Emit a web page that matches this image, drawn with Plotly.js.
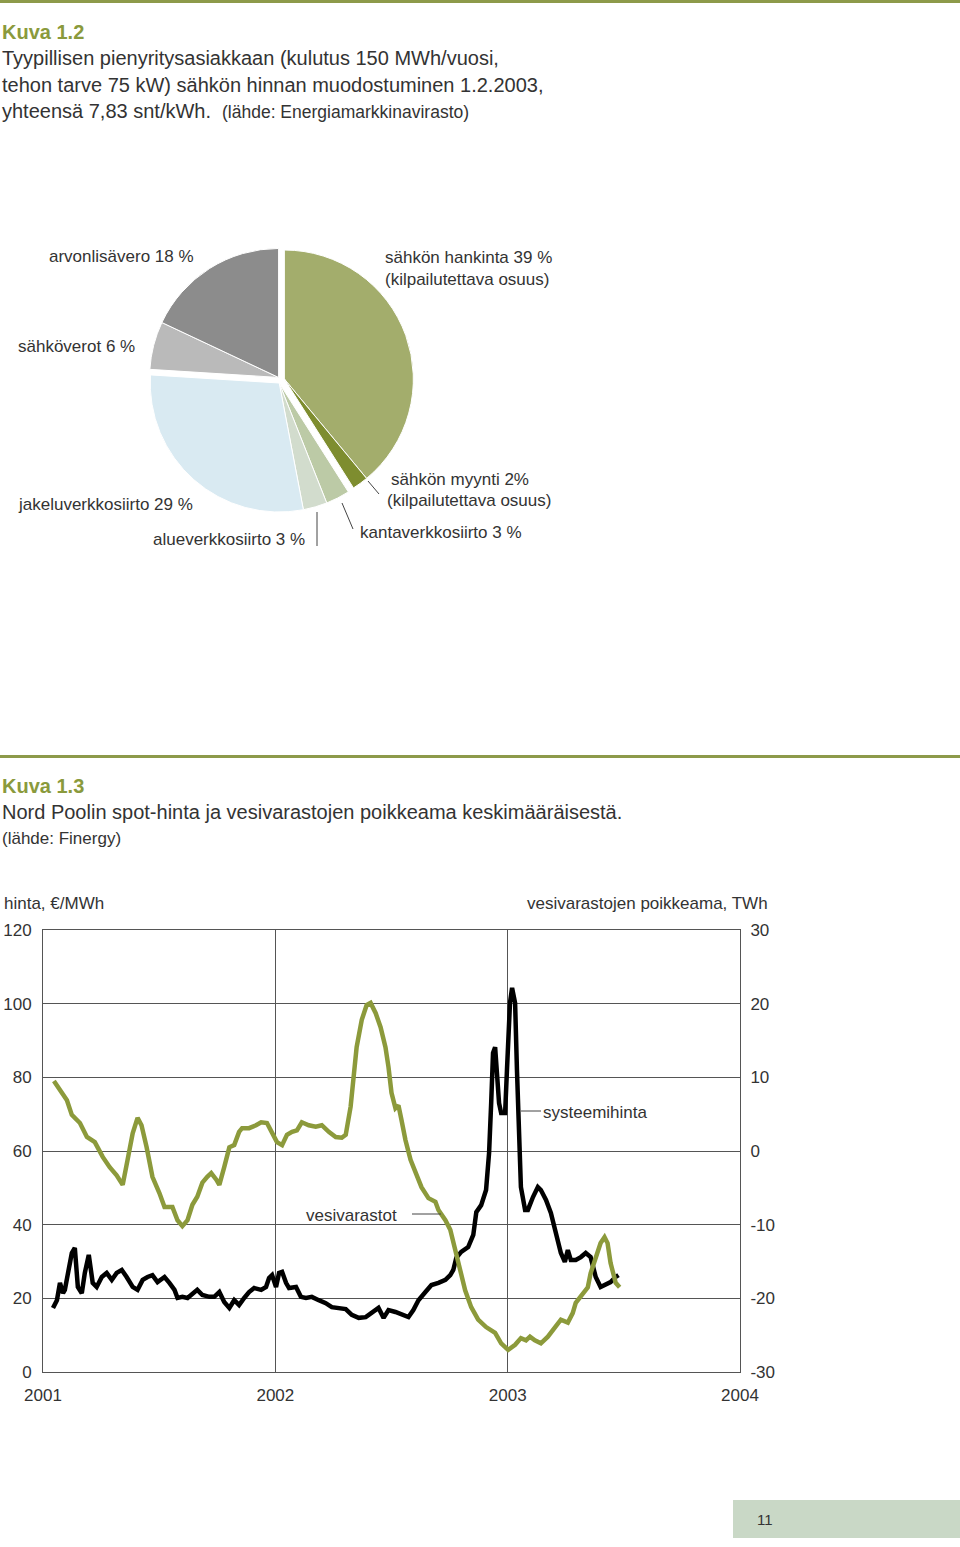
<!DOCTYPE html>
<html><head><meta charset="utf-8">
<script src="https://cdn.plot.ly/plotly-3.0.1.min.js"></script>
<style>html,body{margin:0;padding:0;background:#fff;} #page{width:960px;height:1547px;}</style>
</head><body><div id="page"></div>
<script>
// ---- Kuva 1.2 (pie) ----
const pieLabels = ["sähkön hankinta","sähkön myynti","kantaverkkosiirto","alueverkkosiirto","jakeluverkkosiirto","sähköverot","arvonlisävero"];
const pieValues = [39, 2, 3, 3, 29, 6, 18];
const pieColors = ["#a3ad6c","#7e8d2f","#bccaa6","#d2dccd","#d9eaf2","#bababa","#8c8c8c"];
const pieGroups = [0, 0, 1, 1, 1, 2, 2];

// ---- Kuva 1.3 (lines) ----
const priceYears = [2001.043,2001.060,2001.073,2001.086,2001.094,2001.107,2001.124,2001.137,2001.150,2001.167,
 2001.180,2001.197,2001.214,2001.231,2001.253,2001.274,2001.296,2001.317,2001.339,2001.360,
 2001.386,2001.407,2001.429,2001.450,2001.471,2001.493,2001.523,2001.544,2001.566,2001.579,
 2001.600,2001.622,2001.643,2001.664,2001.686,2001.716,2001.737,2001.759,2001.780,2001.802,
 2001.823,2001.844,2001.866,2001.887,2001.909,2001.939,2001.960,2001.973,2001.986,2002.003,
 2002.016,2002.029,2002.046,2002.059,2002.089,2002.110,2002.132,2002.157,2002.187,2002.217,
 2002.243,2002.273,2002.303,2002.329,2002.359,2002.389,2002.414,2002.444,2002.466,2002.487,
 2002.517,2002.543,2002.573,2002.594,2002.616,2002.646,2002.672,2002.702,2002.732,2002.753,
 2002.766,2002.779,2002.800,2002.830,2002.852,2002.865,2002.886,2002.907,2002.920,2002.929,
 2002.937,2002.946,2002.955,2002.963,2002.972,2002.989,2002.997,2003.010,2003.019,2003.032,
 2003.040,2003.049,2003.057,2003.075,2003.087,2003.109,2003.130,2003.143,2003.165,2003.186,
 2003.207,2003.229,2003.246,2003.259,2003.272,2003.293,2003.315,2003.336,2003.357,2003.379,
 2003.400,2003.422,2003.443,2003.465,2003.477];
const priceValues = [17.4,19.5,24.2,21.4,22.3,26.9,32.3,33.7,23.1,21.4,
 26.9,31.8,24.2,23.1,25.8,26.9,25.0,26.9,27.7,25.8,
 23.1,22.3,25.0,25.8,26.3,24.4,25.8,24.2,22.3,20.1,
 20.4,20.1,21.4,22.3,20.9,20.4,20.4,21.7,19.0,17.4,
 19.5,18.2,20.1,21.7,22.8,22.3,23.1,25.5,26.3,23.1,
 26.9,27.2,24.2,22.8,23.1,20.4,20.1,20.4,19.5,18.7,
 17.6,17.4,17.1,15.5,14.7,14.9,16.0,17.4,14.7,16.8,
 16.3,15.5,14.9,16.8,19.5,21.7,23.6,24.2,25.0,26.3,
 27.7,31.0,32.6,33.9,37.2,43.4,45.3,49.4,59.5,73.0,
 86.6,88.2,80.1,73.0,70.3,70.3,82.0,100.2,104.3,100.2,
 82.0,63.8,50.2,44.0,44.0,47.5,50.2,49.4,46.7,43.2,
 37.7,32.3,29.9,33.1,30.4,30.4,31.2,32.3,31.2,25.8,
 23.1,23.6,24.4,25.8,26.3];

const reservoirYears = [2001.047,2001.073,2001.086,2001.103,2001.124,2001.159,2001.189,2001.223,2001.257,2001.287,
 2001.317,2001.343,2001.364,2001.386,2001.407,2001.424,2001.446,2001.471,2001.501,2001.523,
 2001.544,2001.557,2001.579,2001.600,2001.622,2001.643,2001.664,2001.686,2001.707,2001.724,
 2001.746,2001.759,2001.780,2001.802,2001.823,2001.844,2001.857,2001.887,2001.917,2001.939,
 2001.964,2001.986,
 2002.007,2002.029,2002.050,2002.072,2002.093,2002.114,2002.144,2002.174,2002.200,2002.230,
 2002.260,2002.286,2002.303,2002.324,2002.337,2002.350,2002.372,2002.393,2002.410,2002.432,
 2002.453,2002.474,2002.487,2002.500,2002.517,2002.530,2002.543,2002.560,2002.582,2002.603,
 2002.629,2002.659,2002.689,2002.702,2002.732,2002.753,2002.775,2002.796,2002.817,2002.843,
 2002.873,2002.907,2002.946,2002.972,
 2003.002,2003.032,2003.057,2003.079,2003.096,2003.117,2003.143,2003.173,2003.203,2003.229,
 2003.259,2003.280,2003.293,2003.323,2003.345,2003.357,2003.379,2003.400,2003.417,2003.430,
 2003.443,2003.465,2003.482];
const reservoirValues = [9.5,8.3,7.6,6.9,4.9,3.8,1.9,1.2,-0.8,-2.2,
 -3.3,-4.6,-1.2,2.4,4.5,3.5,0.5,-3.5,-5.7,-7.6,
 -7.6,-7.6,-9.4,-10.2,-9.4,-7.3,-6.2,-4.3,-3.5,-3.0,
 -3.9,-4.6,-2.2,0.5,0.8,2.6,3.1,3.1,3.5,3.9,
 3.8,2.4,
 1.2,0.8,2.2,2.6,2.8,3.9,3.5,3.3,3.5,2.6,
 1.9,1.8,2.2,6.0,10.0,14.1,17.8,19.8,20.1,18.7,
 16.8,14.1,11.4,7.9,5.8,6.2,4.2,1.5,-1.2,-3.0,
 -4.9,-6.4,-6.9,-8.0,-9.4,-10.7,-13.4,-16.2,-18.9,-21.2,
 -22.9,-23.9,-24.7,-26.1,
 -27.0,-26.3,-25.4,-25.7,-25.2,-25.7,-26.1,-25.2,-23.9,-22.9,
 -23.3,-22.0,-20.6,-19.3,-18.5,-16.6,-14.4,-12.5,-11.7,-12.5,
 -15.2,-17.9,-18.5];

const xTickVals = [2001, 2002, 2003, 2004];
const xTickText = ["2001", "2002", "2003", "2004"];
const leftTicks = [0, 20, 40, 60, 80, 100, 120];
const leftTickText = ["0", "20", "40", "60", "80", "100", "120"];
const rightTicks = [-30, -20, -10, 0, 10, 20, 30];
const rightTickText = ["-30", "-20", "-10", "0", "10", "20", "30"];

// ---- page geometry helpers ----
const W = 960, H = 1547;
const X = px => px / W;
const Y = py => 1 - py / H;
const FONT = "Liberation Sans, Arial, Helvetica, sans-serif";
const TXT = "#333333";
const OLIVE = "#8a9a3c";

// pie: three overlaid traces, one per group, each nudged outward slightly
const cx = 281, cy = 380, r = 129, pullPx = 3.5;
const total = pieValues.reduce((a, b) => a + b, 0);
const traces = [];
[0, 1, 2].forEach(g => {
  let start = 0, end = 0, acc = 0;
  let first = true;
  pieValues.forEach((v, i) => {
    if (pieGroups[i] === g) { if (first) { start = acc; first = false; } end = acc + v; }
    acc += v;
  });
  const mid = ((start + end) / 2) / total * 2 * Math.PI;
  const dx = pullPx * Math.sin(mid), dy = -pullPx * Math.cos(mid);
  traces.push({
    type: "pie", labels: pieLabels, values: pieValues, sort: false, direction: "clockwise", rotation: 0,
    marker: {
      colors: pieColors.map((c, i) => pieGroups[i] === g ? c : "rgba(0,0,0,0)"),
      line: { color: pieColors.map((c, i) => pieGroups[i] === g ? "#ffffff" : "rgba(0,0,0,0)"), width: 1 }
    },
    textinfo: "none", hoverinfo: "label+percent", showlegend: false,
    domain: { x: [X(cx + dx - r), X(cx + dx + r)], y: [Y(cy + dy + r), Y(cy + dy - r)] }
  });
});

traces.push({
  type: "scatter", mode: "lines", name: "systeemihinta", x: priceYears, y: priceValues,
  xaxis: "x", yaxis: "y", line: { color: "#000000", width: 4.5 }, showlegend: false
});
traces.push({
  type: "scatter", mode: "lines", name: "vesivarastot", x: reservoirYears, y: reservoirValues,
  xaxis: "x", yaxis: "y2", line: { color: "#8c9a3b", width: 4.5 }, showlegend: false
});

function ann(text, x, y, o) {
  o = o || {};
  return Object.assign({
    text: text, x: X(x), y: Y(y), xref: "paper", yref: "paper", showarrow: false,
    xanchor: "left", yanchor: "middle", align: "left", borderpad: 0,
    font: { family: FONT, size: o.size || 17, color: o.color || TXT }
  }, o.extra || {});
}

const annotations = [
  ann("<b>Kuva 1.2</b>", 1, 32, { size: 20, color: OLIVE }),
  ann("Tyypillisen pienyritysasiakkaan (kulutus 150 MWh/vuosi,", 1, 58, { size: 20 }),
  ann("tehon tarve 75 kW) sähkön hinnan muodostuminen 1.2.2003,", 1, 85, { size: 20 }),
  ann("yhteensä 7,83 snt/kWh.", 1, 111, { size: 20 }),
  ann("(lähde: Energiamarkkinavirasto)", 221, 112, { size: 17.5 }),
  ann("arvonlisävero 18 %", 48, 257),
  ann("sähkön hankinta 39 %<br>(kilpailutettava osuus)", 384, 268),
  ann("sähköverot 6 %", 17, 346),
  ann("jakeluverkkosiirto 29 %", 17, 505),
  ann("alueverkkosiirto 3 %", 152, 539),
  ann("sähkön myynti 2%", 390, 479),
  ann("(kilpailutettava osuus)", 386, 501),
  ann("kantaverkkosiirto 3 %", 359, 532),
  ann("<b>Kuva 1.3</b>", 1, 786, { size: 20, color: OLIVE }),
  ann("Nord Poolin spot-hinta ja vesivarastojen poikkeama keskimääräisestä.", 1, 812, { size: 20 }),
  ann("(lähde: Finergy)", 1, 839, { size: 17 }),
  ann("hinta, €/MWh", 3, 903),
  ann("vesivarastojen poikkeama, TWh", 769, 903, { extra: { xanchor: "right", align: "right" } }),
  ann("systeemihinta", 542, 1112),
  ann("vesivarastot", 305, 1215),
  ann("11", 756, 1519, { size: 15 })
];

function line(x0, y0, x1, y1, color, width) {
  return { type: "line", xref: "paper", yref: "paper", x0: X(x0), y0: Y(y0), x1: X(x1), y1: Y(y1),
    line: { color: color || "#333", width: width || 1 } };
}
const shapes = [
  line(0, 1.5, 960, 1.5, "#8d9a4a", 3),
  line(0, 756.5, 960, 756.5, "#8d9a4a", 3),
  { type: "rect", xref: "paper", yref: "paper", x0: X(733), x1: X(960), y0: Y(1538), y1: Y(1500),
    fillcolor: "#c9d8c6", line: { width: 0 }, layer: "below" },
  line(317, 512, 317, 546, "#444", 1),
  line(342, 503, 353, 529, "#444", 1),
  line(368, 481, 379, 494, "#444", 1),
  line(521, 1111, 541, 1111, "#444", 1),
  line(412, 1214, 441, 1214, "#444", 1)
];

const axisFont = { family: FONT, size: 17, color: TXT };
const layout = {
  width: W, height: H, margin: { l: 0, r: 0, t: 0, b: 0 }, autosize: false,
  paper_bgcolor: "#ffffff", plot_bgcolor: "rgba(0,0,0,0)", showlegend: false,
  font: { family: FONT, color: TXT },
  xaxis: {
    domain: [X(43), X(740)], range: [2001, 2004], tickvals: xTickVals, ticktext: xTickText,
    showgrid: true, gridcolor: "#555", gridwidth: 1, zeroline: false,
    showline: true, linecolor: "#555", linewidth: 1, mirror: true,
    ticks: "", ticklabelstandoff: 8, tickfont: axisFont, anchor: "y", fixedrange: true
  },
  yaxis: {
    domain: [Y(1372), Y(930)], range: [0, 120], tickvals: leftTicks, ticktext: leftTickText,
    showgrid: true, gridcolor: "#555", gridwidth: 1, zeroline: false,
    showline: true, linecolor: "#555", linewidth: 1,
    ticks: "", ticklabelstandoff: 7, tickfont: axisFont, anchor: "x", fixedrange: true
  },
  yaxis2: {
    overlaying: "y", side: "right", range: [-30, 30], tickvals: rightTicks, ticktext: rightTickText,
    showgrid: false, zeroline: false, showline: true, linecolor: "#555", linewidth: 1,
    ticks: "", ticklabelstandoff: 6, tickfont: axisFont, anchor: "x", fixedrange: true
  },
  annotations: annotations,
  shapes: shapes
};

Plotly.newPlot("page", traces, layout, { staticPlot: true, displayModeBar: false });
</script>
</body></html>
